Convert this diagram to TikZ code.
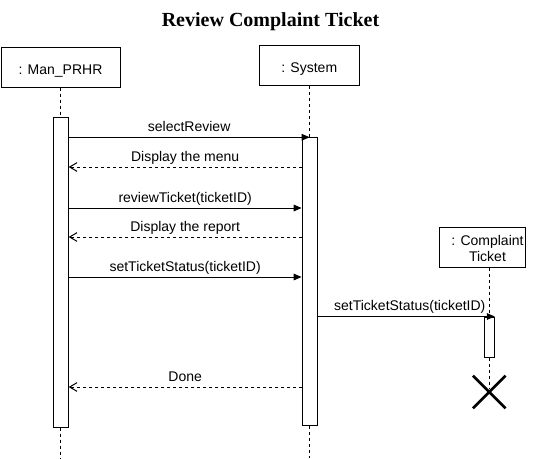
\documentclass[tikz,border=0pt]{standalone}
\usepackage{fontspec}
\setmainfont{Liberation Serif}
\newfontfamily\diagfont{Liberation Sans}
\usetikzlibrary{arrows.meta,shapes.misc,calc}
\tikzset{
  every node/.style={font=\diagfont\fontsize{10.5pt}{12pt}\selectfont},
  objbox/.style={draw, line width=0.75pt, fill=white, minimum height=30pt, inner sep=0pt},
  boxtext/.style={text height=11pt, text depth=0pt},
  actbox/.style={draw, line width=0.75pt, fill=white, inner sep=0pt},
  lifeline/.style={line width=0.75pt, dash pattern=on 2.25pt off 2.25pt},
  callmsg/.style={line width=0.75pt, -{Triangle[length=6pt,width=5pt]}},
  retmsg/.style={line width=0.75pt, dash pattern=on 2.25pt off 2.25pt, -{Straight Barb[length=5.5pt,width=6.5pt]}},
  msglabel/.style={anchor=base, inner sep=0pt, yshift=4.5pt},
  destroyx/.style={draw, cross out, line width=2pt, minimum size=22.5pt, inner sep=0pt}
}
\begin{document}
\begin{tikzpicture}[x=0.75pt,y=-0.75pt]
\useasboundingbox (0,0) rectangle (540,458);
% title
\node[font=\rmfamily\bfseries\fontsize{15pt}{18pt}\selectfont, anchor=base, inner sep=0pt] (title) at (270.5,26.5) {Review Complaint Ticket};
% lifeline heads
\node[objbox, boxtext, minimum width=89.25pt] (man) at (60.5,67) {: Man\_PRHR};
\node[objbox, boxtext, minimum width=75pt] (sys) at (309.3,65.5) {: System};
\node[objbox, minimum width=65pt] (ct) at (482.4,247) {};
\node[align=center, inner sep=0pt] (ctl) at (487.5,248) {: Complaint\\Ticket};
% activations
\node[actbox, minimum width=11.25pt, minimum height=232.5pt] (ma) at (60.7,272) {};
\node[actbox, minimum width=11.25pt, minimum height=216pt] (sa) at (309.6,281.75) {};
\node[actbox, minimum width=7.5pt, minimum height=30pt] (ca) at (489.3,337) {};
\coordinate (manend) at (60.7,458);
\coordinate (sysend) at (309.6,458);
% lifelines
\draw[lifeline] (man.south -| ma.north) -- (ma.north);
\draw[lifeline] (ma.south) -- (manend);
\draw[lifeline] (sys.south -| sa.north) -- (sa.north);
\draw[lifeline] (sa.south) -- (sysend);
\node[destroyx] (dx) at (489.3,392) {};
\draw[lifeline] (ct.south -| ca.north) -- (ca.north);
\draw[lifeline] (ca.south) -- ($(dx.center)+(0,-4)$);
% messages
\draw[callmsg] (ma.east |- sa.north) -- (sa.north) node[msglabel, midway] (l1) {selectReview};
\draw[retmsg] (sa.west |- 0,167) -- (ma.east |- 0,167) node[msglabel, midway] (l2) {Display the menu};
\draw[callmsg] (ma.east |- 0,208) -- (sa.west |- 0,208) node[msglabel, midway] (l3) {reviewTicket(ticketID)};
\draw[retmsg] (sa.west |- 0,237) -- (ma.east |- 0,237) node[msglabel, midway] (l4) {Display the report};
\draw[callmsg] (ma.east |- 0,277) -- (sa.west |- 0,277) node[msglabel, midway] (l5) {setTicketStatus(ticketID)};
\draw[callmsg] (sa.east |- ca.north) -- (ca.north east) node[msglabel, pos=0.52] (l6) {setTicketStatus(ticketID)};
\draw[retmsg] (sa.west |- 0,387) -- (ma.east |- 0,387) node[msglabel, midway] (l7) {Done};
\end{tikzpicture}
\end{document}
